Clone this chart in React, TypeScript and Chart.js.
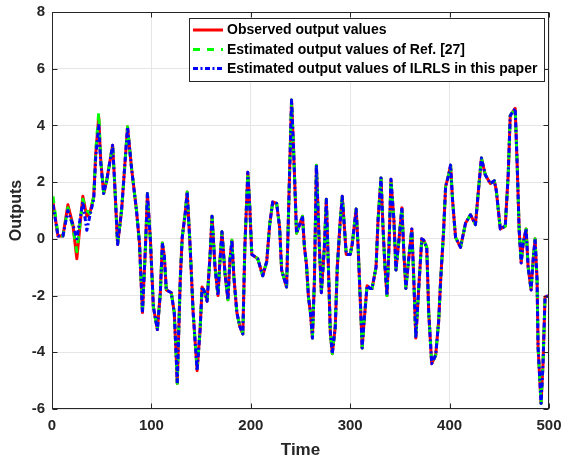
import React, { useEffect, useRef } from "react";
import { Chart, registerables } from "chart.js";

Chart.register(...registerables);

// ---- Data ----
// The first stretch is where the three curves visibly differ.
const headTimes = [1, 6, 11, 16, 21, 25, 31, 35, 38, 42, 44, 47, 49];
const observedHead = [1.3, 0.1, 0.1, 1.2, 0.5, -0.7, 1.5, 0.8, 0.9, 1.5, 3.0, 4.3, 2.8];
const refHead = [1.5, 0.15, 0.1, 1.1, 0.4, -0.45, 1.4, 1.0, 0.9, 1.5, 3.1, 4.45, 2.8];
const ilrlsHead = [1.2, 0.1, 0.1, 1.0, 0.5, 0.0, 1.3, 0.3, 0.8, 1.4, 2.9, 4.0, 2.7];

// After that the three curves overlap within a line width.
const tailTimes = [
  52, 55, 61, 63, 66, 70, 76, 80, 85, 88,
  91, 94, 96, 99, 102, 106, 109, 111, 113, 115,
  120, 123, 125, 126, 129, 131, 134, 136, 139, 142,
  146, 149, 151, 154, 156, 159, 161, 164, 167, 169,
  171, 174, 177, 179, 181, 183, 186, 189, 192, 194,
  197, 199, 201, 207, 212, 216, 219, 222, 226, 229,
  231, 236, 239, 241, 243, 246, 249, 252, 254, 256,
  258, 260, 262, 264, 266, 269, 271, 274, 276, 278,
  280, 282, 285, 287, 290, 292, 294, 296, 300, 302,
  306, 308, 311, 312, 314, 317, 320, 322, 326, 328,
  331, 333, 335, 337, 339, 341, 344, 346, 349, 352,
  354, 356, 359, 362, 364, 366, 369, 372, 374, 377,
  379, 382, 386, 389, 391, 394, 396, 399, 401, 403,
  406, 411, 416, 421, 426, 429, 432, 436, 441, 445,
  447, 451, 456, 459, 461, 466, 468, 470, 472, 474,
  477, 479, 482, 484, 486, 488, 489, 492, 494, 496,
  500,
];
const tailValues = [
  1.6, 2.05, 3.3, 2.0, -0.2, 1.0, 3.95, 2.5, 1.0, -0.15,
  -2.6, -0.3, 1.6, -0.05, -2.4, -3.2, -1.9, -0.15, -0.6, -1.8,
  -1.9, -2.6, -4.2, -5.1, -1.45, 0.05, 0.9, 1.65, -0.3, -2.6,
  -4.65, -3.2, -1.7, -1.9, -2.2, -0.6, 0.8, -1.0, -2.0, -0.75,
  0.25, -1.2, -2.15, -0.75, -0.05, -1.35, -2.6, -3.1, -3.35, -0.3,
  2.35, 1.1, -0.55, -0.7, -1.3, -0.8, 0.5, 1.3, 1.25, 0.4,
  -1.1, -1.7, 2.3, 4.9, 3.2, 0.2, 0.5, 0.8, -0.3, -0.9,
  -2.05, -2.6, -3.5, -1.45, 2.6, -0.3, -1.9, -0.3, 1.4, -0.9,
  -3.3, -4.05, -3.1, -1.0, 0.65, 1.5, 0.5, -0.55, -0.55, -0.2,
  1.05, -0.3, -2.9, -3.85, -2.9, -1.65, -1.75, -1.75, -1.0, 0.65,
  2.15, 0.4, -1.0, -2.0, -0.3, 2.1, 0.65, -1.1, -0.05, 1.1,
  -0.5, -1.75, -0.65, 0.35, -1.45, -3.5, -1.7, 0.0, -0.05, -0.3,
  -2.6, -4.4, -4.1, -2.9, -1.45, 0.3, 1.85, 2.25, 2.6, 1.35,
  0.05, -0.3, 0.55, 0.85, 0.5, 1.7, 2.85, 2.25, 1.95, 2.05,
  1.7, 0.35, 0.45, 2.3, 4.35, 4.6, 2.6, 0.3, -0.85, -0.15,
  0.35, -1.0, -1.8, -0.75, 0.0, -1.45, -3.8, -5.8, -4.4, -2.05,
  -2.0,
];

const timeSteps = [...headTimes, ...tailTimes];
const observedValues = [...observedHead, ...tailValues];
const refEstimates = [...refHead, ...tailValues];
const ilrlsEstimates = [...ilrlsHead, ...tailValues];

const xTicks = [0, 100, 200, 300, 400, 500];
const yTicks = [-6, -4, -2, 0, 2, 4, 6, 8];

const seriesLabels = [
  "Observed output values",
  "Estimated output values of Ref. [27]",
  "Estimated output values of ILRLS in this paper",
];
const xTitle = "Time";
const yTitle = "Outputs";

// ---- Styles ----
const FONT = "'Liberation Sans', Arial, Helvetica, sans-serif";
const AXIS_COLOR = "#262626";
const RED = "#ff0000";
const GREEN = "#00ff00";
const BLUE = "#0000ff";
const GREEN_DASH = [7, 7];
const BLUE_DASH = [5, 2.5, 2, 2.5];

const toPoints = (vals: number[]) => timeSteps.map((t, i) => ({ x: t, y: vals[i] }));

const framePlugin = {
  id: "matlabFrame",
  afterDraw(chart: any) {
    const { ctx, chartArea: a, scales } = chart;
    ctx.save();
    ctx.strokeStyle = AXIS_COLOR;
    ctx.lineWidth = 1;
    const L = Math.round(a.left) + 0.5;
    const R = Math.round(a.right) - 0.5;
    const T = Math.round(a.top) + 0.5;
    const B = Math.round(a.bottom) - 0.5;
    ctx.strokeRect(L, T, R - L, B - T);
    const tl = 5;
    ctx.beginPath();
    xTicks.forEach((v) => {
      const px = Math.round(scales.x.getPixelForValue(v)) + 0.5;
      ctx.moveTo(px, B);
      ctx.lineTo(px, B - tl);
      ctx.moveTo(px, T);
      ctx.lineTo(px, T + tl);
    });
    yTicks.forEach((v) => {
      const py = Math.round(scales.y.getPixelForValue(v)) + 0.5;
      ctx.moveTo(L, py);
      ctx.lineTo(L + tl, py);
      ctx.moveTo(R, py);
      ctx.lineTo(R - tl, py);
    });
    ctx.stroke();

    // Legend box inside the axes (top right)
    const lx = 189.5, ly = 18.5, lw = 355, lh = 63;
    ctx.fillStyle = "#ffffff";
    ctx.fillRect(lx, ly, lw, lh);
    ctx.strokeStyle = AXIS_COLOR;
    ctx.lineWidth = 1;
    ctx.strokeRect(lx, ly, lw, lh);
    const rows = [30, 49.5, 68.5];
    const colors = [RED, GREEN, BLUE];
    const dashes = [[], GREEN_DASH, BLUE_DASH];
    rows.forEach((y, i) => {
      ctx.beginPath();
      ctx.strokeStyle = colors[i];
      ctx.lineWidth = 3;
      ctx.setLineDash(dashes[i]);
      ctx.moveTo(193, y);
      ctx.lineTo(223, y);
      ctx.stroke();
      ctx.setLineDash([]);
      ctx.fillStyle = "#000000";
      ctx.font = `bold 14px ${FONT}`;
      ctx.textBaseline = "middle";
      ctx.textAlign = "left";
      ctx.fillText(seriesLabels[i], 227, y + 0.5);
    });
    ctx.restore();
  },
};

export default function App() {
  const canvasRef = useRef<HTMLCanvasElement | null>(null);

  useEffect(() => {
    const canvas = canvasRef.current;
    if (!canvas) return;
    const common = {
      borderWidth: 3,
      pointRadius: 0,
      tension: 0,
      borderJoinStyle: "round",
      borderCapStyle: "butt",
    };
    const chart = new Chart(canvas, {
      type: "line",
      data: {
        datasets: [
          {
            ...common,
            label: seriesLabels[0],
            data: toPoints(observedValues),
            borderColor: RED,
            order: 2,
          },
          {
            ...common,
            label: seriesLabels[1],
            data: toPoints(refEstimates),
            borderColor: GREEN,
            borderDash: GREEN_DASH,
            order: 1,
          },
          {
            ...common,
            label: seriesLabels[2],
            data: toPoints(ilrlsEstimates),
            borderColor: BLUE,
            borderDash: BLUE_DASH,
            order: 0,
          },
        ],
      },
      options: {
        responsive: false,
        animation: false,
        devicePixelRatio: 1,
        layout: { padding: { top: 12, right: 14, left: 0, bottom: 0 } },
        plugins: {
          legend: { display: false },
          tooltip: { enabled: false },
        },
        scales: {
          x: {
            type: "linear",
            min: 0,
            max: 500,
            afterFit: (s: any) => {
              s.height = 55;
              s.paddingLeft = 0;
              s.paddingRight = 0;
            },
            afterBuildTicks: (s: any) => {
              s.ticks = xTicks.map((v) => ({ value: v }));
            },
            grid: { color: "#e6e6e6", drawTicks: false, lineWidth: 1 },
            border: { display: false },
            ticks: {
              padding: 8,
              color: AXIS_COLOR,
              maxRotation: 0,
              autoSkip: false,
              font: { family: FONT, size: 15, weight: "bold" },
            },
            title: {
              display: true,
              text: xTitle,
              color: AXIS_COLOR,
              padding: { top: 0, bottom: 3 },
              font: { family: FONT, size: 17, weight: "bold" },
            },
          },
          y: {
            type: "linear",
            min: -6,
            max: 8,
            afterFit: (s: any) => {
              s.width = 52;
              s.paddingTop = 0;
              s.paddingBottom = 0;
            },
            afterBuildTicks: (s: any) => {
              s.ticks = yTicks.map((v) => ({ value: v }));
            },
            grid: { color: "#e6e6e6", drawTicks: false, lineWidth: 1 },
            border: { display: false },
            ticks: {
              padding: 7,
              color: AXIS_COLOR,
              autoSkip: false,
              font: { family: FONT, size: 15, weight: "bold" },
            },
            title: {
              display: true,
              text: yTitle,
              color: AXIS_COLOR,
              padding: { top: 7, bottom: 0 },
              font: { family: FONT, size: 16, weight: "bold" },
            },
          },
        },
      },
      plugins: [framePlugin],
    } as any);
    return () => chart.destroy();
  }, []);

  return (
    <div style={{ position: "absolute", left: 0, top: 0, width: 563, height: 464, background: "#fff" }}>
      <canvas ref={canvasRef} width={563} height={464} style={{ display: "block" }} />
    </div>
  );
}
